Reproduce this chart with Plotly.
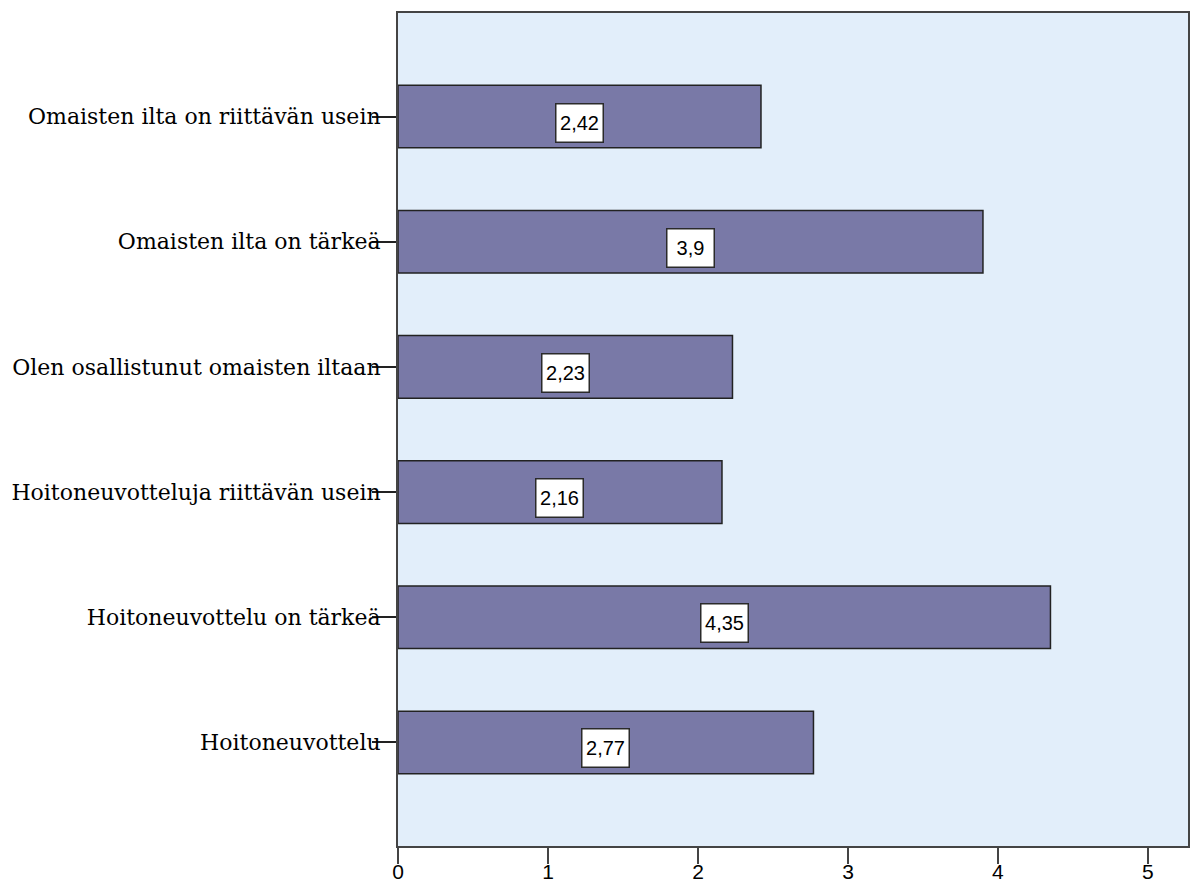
import plotly.graph_objects as go

categories = [
    "Omaisten ilta on riittävän usein",
    "Omaisten ilta on tärkeä",
    "Olen osallistunut omaisten iltaan",
    "Hoitoneuvotteluja riittävän usein",
    "Hoitoneuvottelu on tärkeä",
    "Hoitoneuvottelu",
]
values = [2.42, 3.9, 2.23, 2.16, 4.35, 2.77]
value_labels = ["2,42", "3,9", "2,23", "2,16", "4,35", "2,77"]
x_ticks = [0, 1, 2, 3, 4, 5]

fig = go.Figure()
fig.add_trace(go.Bar(
    x=values, y=categories, orientation="h",
    width=0.5,
    marker=dict(color="#7979a7", line=dict(color="#222222", width=1.5)),
    showlegend=False, hoverinfo="skip",
))

for v, c, t in zip(values, categories, value_labels):
    fig.add_annotation(
        x=v / 2, y=c, text=t, showarrow=False,
        font=dict(family="Liberation Sans, Arial, sans-serif", size=20, color="#000000"),
        bgcolor="#ffffff", bordercolor="#2a2a2a", borderwidth=1.5, borderpad=1,
        width=44, height=35, yshift=-6, xanchor="center", yanchor="middle",
    )

fig.update_layout(
    width=1192, height=883,
    margin=dict(l=398, r=4, t=13, b=37),
    paper_bgcolor="#ffffff", plot_bgcolor="#e2eefa",
    bargap=0.5,
)
fig.update_xaxes(
    range=[0, 5.267], tickvals=x_ticks, ticktext=[str(t) for t in x_ticks],
    showgrid=False, zeroline=False, automargin=False,
    showline=True, linecolor="#444444", linewidth=2, mirror=True,
    ticks="outside", ticklen=16, tickwidth=2, tickcolor="#444444",
    ticklabelstandoff=-10,
    tickfont=dict(family="Liberation Sans, Arial, sans-serif", size=21, color="#000000"),
)
fig.update_yaxes(
    categoryorder="array", categoryarray=categories[::-1],
    range=[-0.827, 5.827],
    showgrid=False, zeroline=False, automargin=False,
    showline=True, linecolor="#444444", linewidth=2, mirror=True,
    ticks="outside", ticklen=24, tickwidth=2, tickcolor="#222222",
    ticklabelstandoff=-13,
    tickfont=dict(family="DejaVu Serif, serif", size=22, color="#000000"),
)

fig.write_html("out.html")
